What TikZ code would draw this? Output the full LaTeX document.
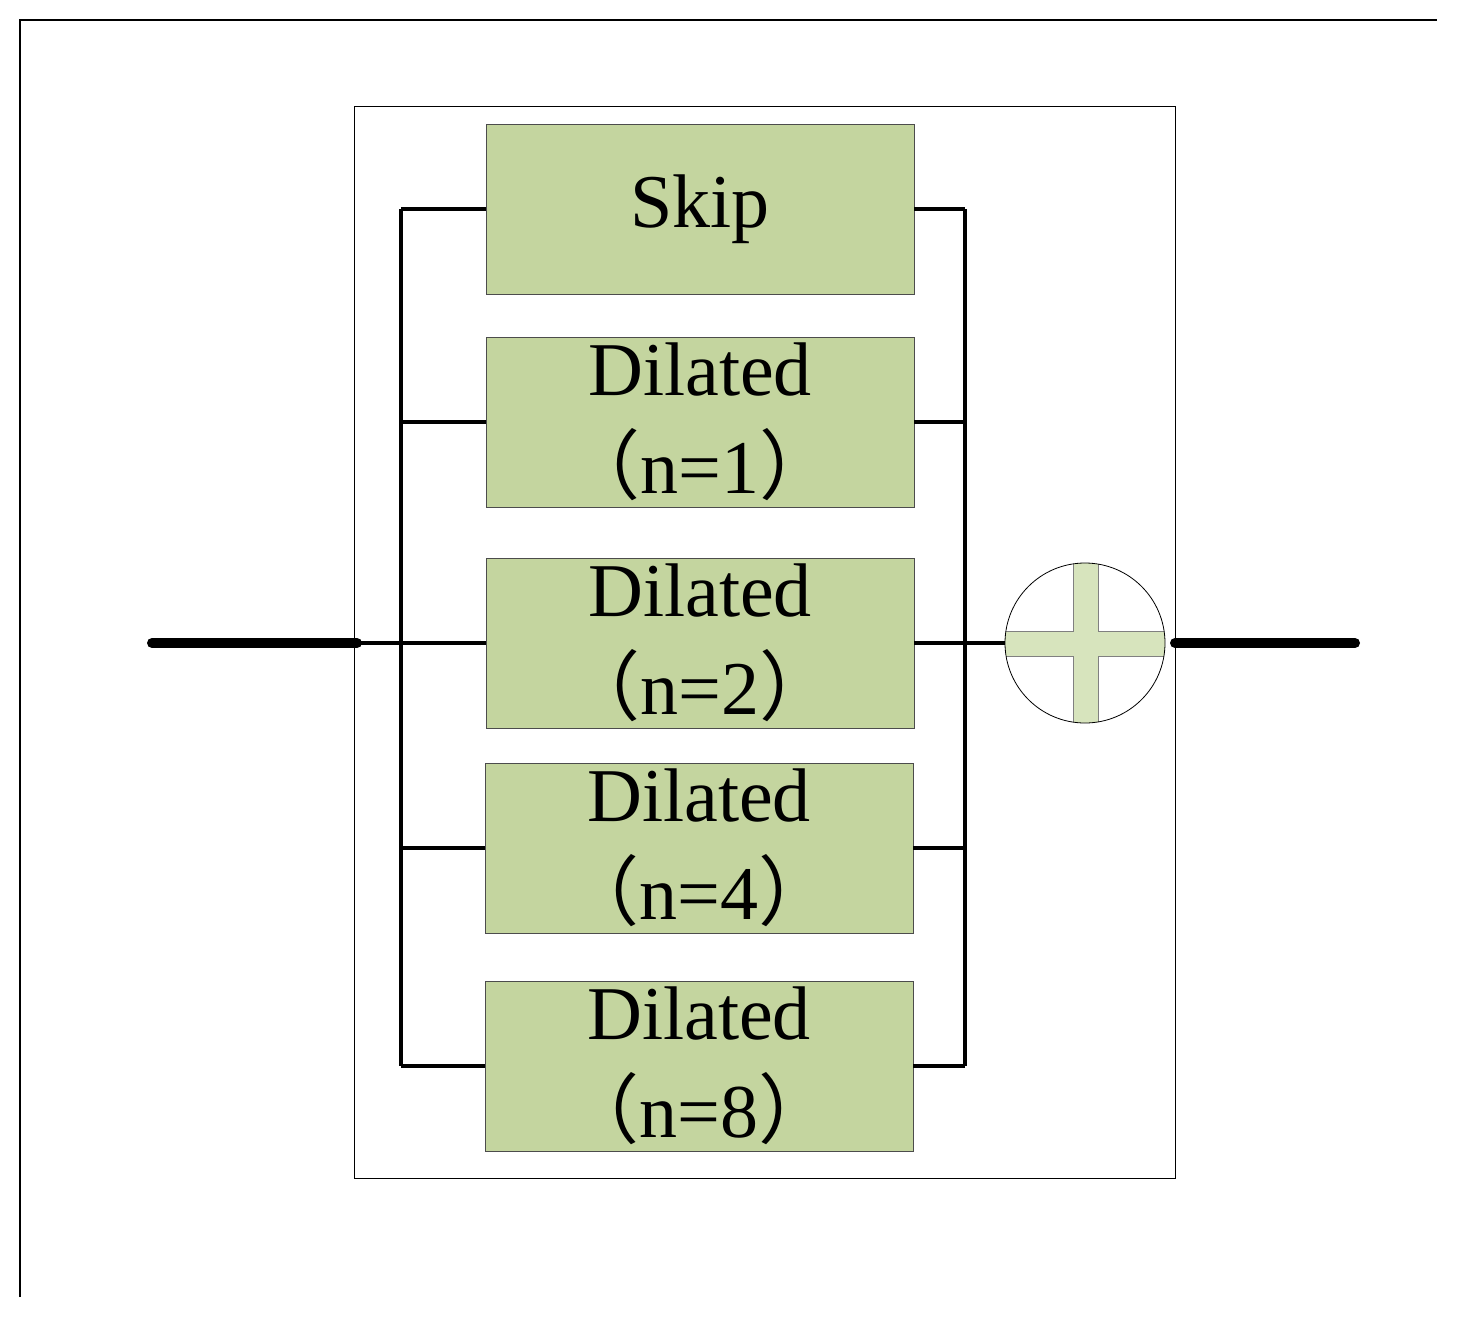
\documentclass[tikz,border=0pt]{standalone}
\usepackage{fontspec}
\setmainfont{Liberation Serif}
\newfontfamily\cjk{Noto Sans CJK SC}
\newcommand\lpar{{\cjk \char"FF08}}
\newcommand\rpar{{\cjk \char"FF09}}
\begin{document}
\begin{tikzpicture}[x=0.5pt,y=-0.5pt,
  blk/.style={draw=black!70,line width=0.4pt,fill=boxg,minimum width=214pt,minimum height=85pt,inner sep=0pt,font=\fontsize{38}{49}\selectfont,align=center},
  bus/.style={line width=1.6pt}]
\definecolor{boxg}{HTML}{C4D59F}
\definecolor{crossg}{HTML}{D7E4BD}
\useasboundingbox (0,0) rectangle (1469,1329);
\draw[line width=1pt] (20,1297) -- (20,20) -- (1437,20);
\draw[line width=0.4pt] (354,106) rectangle (1175,1178);
\node[blk] (s) at (700,209) {Skip};
\node[blk] (d1) at (700,422) {Dilated\\\lpar n=1\rpar};
\node[blk] (d2) at (700,643) {Dilated\\\lpar n=2\rpar};
\node[blk] (d4) at (699,848) {Dilated\\\lpar n=4\rpar};
\node[blk] (d8) at (699,1066) {Dilated\\\lpar n=8\rpar};
\node[circle,minimum size=80pt,inner sep=0pt] (c) at (1085,643) {};
\begin{scope}
\clip (1085,643) circle (80);
\fill[crossg] (1073,560) rectangle (1098,730);
\fill[crossg] (1000,631) rectangle (1170,656);
\draw[black!50,line width=0.3pt] (1073,560) -- (1073,631) -- (1000,631) (1098,560) -- (1098,631) -- (1170,631)
 (1073,730) -- (1073,656) -- (1000,656) (1098,730) -- (1098,656) -- (1170,656);
\end{scope}
\draw[line width=0.4pt] (1085,643) circle (80);
\coordinate (lt) at (401,209); \coordinate (lb) at (401,1066);
\coordinate (rt) at (965,209); \coordinate (rb) at (965,1066);
\draw[bus] (lt) -- (lb) (rt) -- (rb);
\foreach \n in {s,d1,d2,d4,d8}{
  \draw[bus] (\n.west) -- (\n.west -| lt);
  \draw[bus] (\n.east) -- (\n.east -| rt);
}
\coordinate (in0) at (152,643); \coordinate (in1) at (357,643);
\coordinate (out0) at (1175,643); \coordinate (out1) at (1355,643);
\draw[line width=5pt,line cap=round] (in0) -- (in1);
\draw[bus] (in1) -- (d2.west);
\draw[bus] (d2.east) -- (c.west);
\draw[line width=5pt,line cap=round] (out0) -- (out1);
\end{tikzpicture}
\end{document}
